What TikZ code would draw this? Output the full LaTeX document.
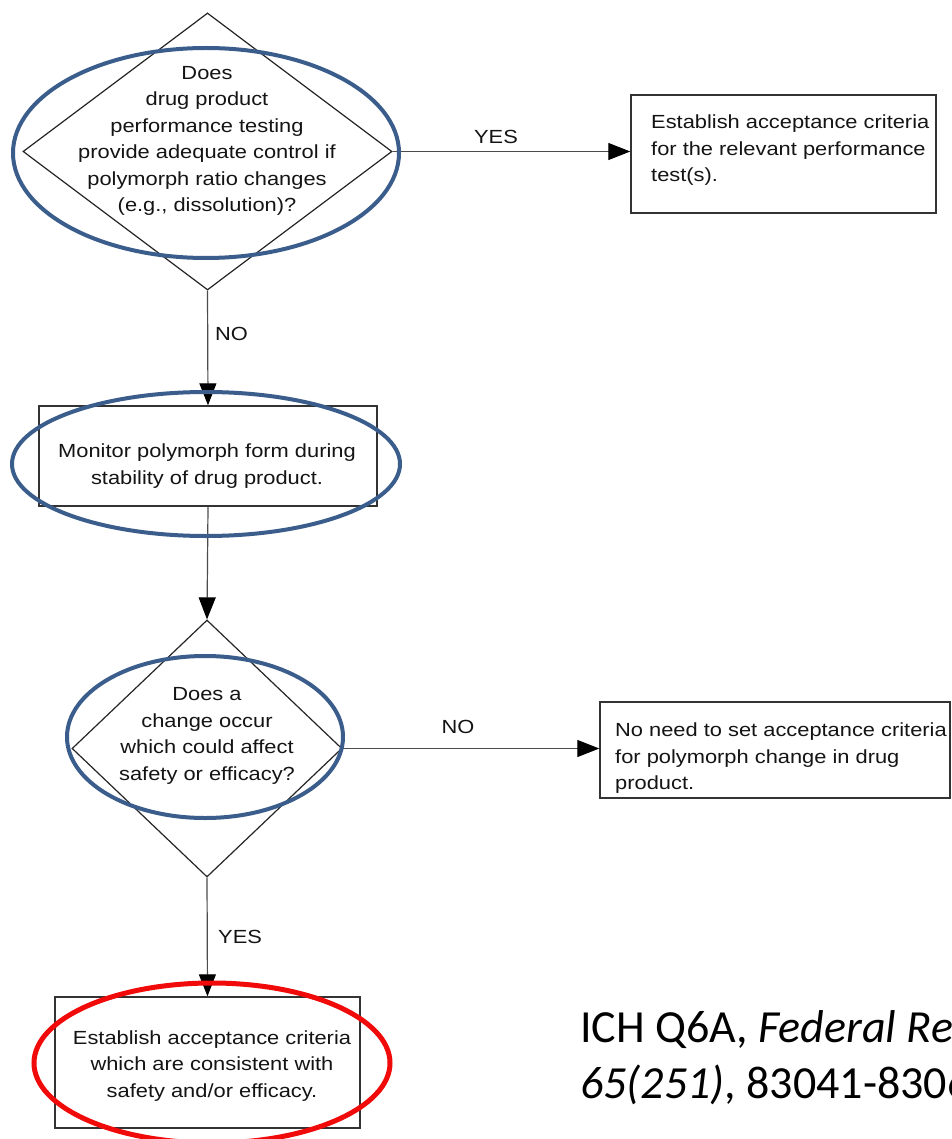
\documentclass[tikz,border=0pt]{standalone}
\usepackage{fontspec}
\setmainfont{Liberation Sans}
\newfontfamily\diagfont[FakeStretch=1.15]{Liberation Sans}
\newfontfamily\citefont{Carlito}
\usetikzlibrary{shapes.geometric,arrows.meta}
\definecolor{ringblue}{RGB}{58,93,140}
\definecolor{ringred}{RGB}{240,10,10}
\tikzset{
  dia/.style={diamond, draw=black!85, line width=1.2pt, inner sep=0pt},
  boxn/.style={rectangle, draw=black!80, line width=1.4pt, inner sep=0pt},
  txt/.style={font=\diagfont\fontsize{19}{26.5}\selectfont, text=black!92, inner sep=0pt, align=center},
  txtl/.style={txt, align=left},
  flow/.style={draw=black!70, line width=1.2pt, -{Triangle[length=22pt,width=17pt,color=black]}},
  lab/.style={font=\diagfont\fontsize{19}{22}\selectfont, text=black!92, inner sep=0pt},
  ring/.style={draw=ringblue, line width=4pt},
  redring/.style={draw=ringred, line width=5pt},
  cite/.style={font=\citefont\fontsize{46}{56}\selectfont, text=black, inner sep=0pt, anchor=base west}
}
\begin{document}
\begin{tikzpicture}[x=1pt,y=-1pt]
\useasboundingbox (0,0) rectangle (951,1139);
\clip (0,0) rectangle (951,1139);
\fill[white] (0,0) rectangle (951,1139);

% decision 1
\node[dia, minimum width=369pt, minimum height=277pt] (d1) at (207.5,151.5) {};
\node[txt] (d1t) at (207,141) {Does\\drug product\\performance testing\\provide adequate control if\\polymorph ratio changes\\(e.g., dissolution)?};

% box 1
\node[boxn, minimum width=305pt, minimum height=118pt] (b1) at (783.5,154) {};
\node[txtl, anchor=north west] (b1t) at (651,115) {Establish acceptance criteria\\for the relevant performance\\test(s).};

% box 2
\node[boxn, minimum width=338pt, minimum height=100pt] (b2) at (208,456) {};
\node[txt] (b2t) at (207,466) {Monitor polymorph form during\\stability of drug product.};

% decision 2
\node[dia, minimum width=270pt, minimum height=257pt] (d2) at (207,748.5) {};
\node[txt] (d2t) at (207,736) {Does a\\change occur\\which could affect\\safety or efficacy?};

% box 3
\node[boxn, minimum width=350pt, minimum height=96pt] (b3) at (775,750) {};
\node[txtl, anchor=north west] (b3t) at (615,723) {No need to set acceptance criteria\\for polymorph change in drug\\product.};

% box 4
\node[boxn, minimum width=305pt, minimum height=131pt] (b4) at (207.5,1062.5) {};
\node[txt] (b4t) at (212,1066) {Establish acceptance criteria\\which are consistent with\\safety and/or efficacy.};

% connectors
\draw[flow] (d1.east) -- (d1.east -| b1.west);
\draw[flow] (d1.south) -- (b2.north);
\draw[flow] (b2.south) -- (d2.north);
\draw[flow] (d2.east) -- (d2.east -| b3.west);
\draw[flow] (d2.south) -- (b4.north);

% labels
\node[lab] (lyes1) at (496,137) {YES};
\node[lab, anchor=west] (lno1) at (215,334) {NO};
\node[lab] (lno2) at (458,727) {NO};
\node[lab, anchor=west] (lyes2) at (218,937) {YES};

% highlight rings
\draw[ring] (206,153) ellipse [x radius=193, y radius=105];
\draw[ring] (206,464) ellipse [x radius=194, y radius=72];
\draw[ring] (205,737) ellipse [x radius=138, y radius=81];
\draw[redring] (212,1063) ellipse [x radius=178, y radius=80];

% citation (cut at the right edge, as in the reference)
\node[cite] (c1) at (580,1042) {ICH Q6A, \textit{Federal Register}};
\node[cite] (c2) at (580,1098) {\textit{65(251)}, 83041-83063};
\end{tikzpicture}
\end{document}
